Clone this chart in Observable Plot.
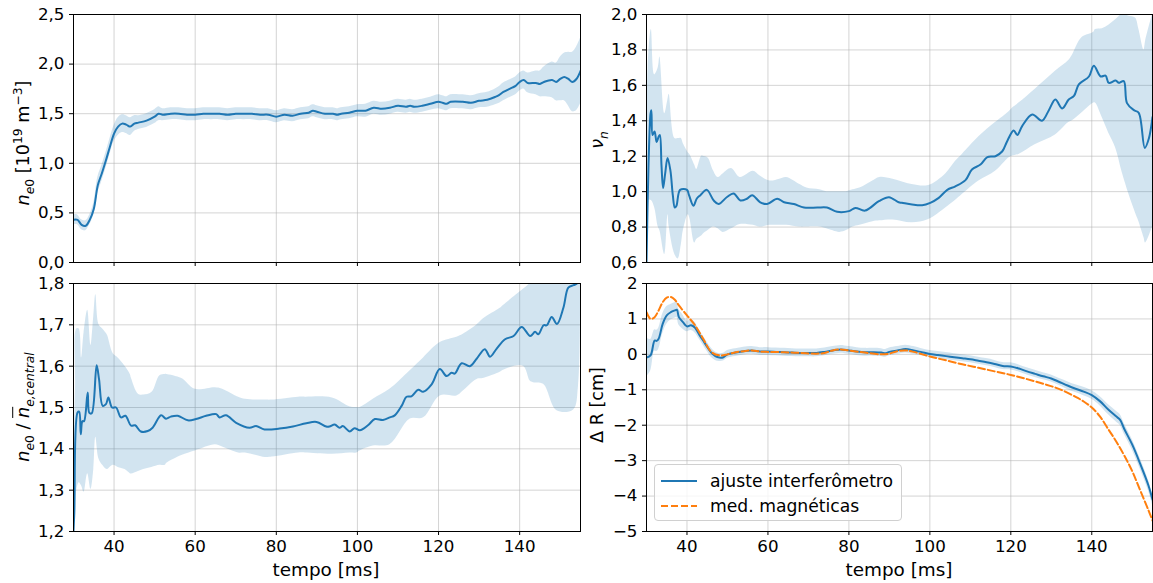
<!DOCTYPE html>
<html>
<head>
<meta charset="utf-8">
<script src="https://cdn.jsdelivr.net/npm/d3@7"></script>
<script src="https://cdn.jsdelivr.net/npm/@observablehq/plot@0.6"></script>
<style>
  html, body { margin: 0; padding: 0; background: #fff; }
  #chart { position: relative; width: 1153px; height: 583px; font-family: "DejaVu Sans", sans-serif; color: #000; }
  .panel { position: absolute; }
  .ylab { position: absolute; transform: translate(-50%, -50%) rotate(-90deg); white-space: nowrap; font-size: 17.6px; line-height: 1; }
  .xlab { position: absolute; transform: translate(-50%, -50%); white-space: nowrap; font-size: 18.4px; line-height: 1; }
  .legend { position: absolute; border: 1px solid #d0d0d0; border-radius: 4px; background: rgba(255,255,255,0.8); font-size: 17.2px; box-sizing: border-box; }
  .legend .row { position: absolute; left: 0; display: flex; align-items: center; white-space: nowrap; }
  .legend svg { margin-left: 6px; margin-right: 13px; }
  sub, sup { font-size: 70%; line-height: 0; }
</style>
</head>
<body>
<div id="chart"></div>
<script>
// ---------------- shared axis values ----------------
const xTicks = [40, 60, 80, 100, 120, 140];
const xDomain = [30, 155];

// ---------------- panel A: n_e0 ----------------
const tA = [30,31,32,33,34,35,36,37,38,39,40,41,42,43,44,45,46,48,50,51,52,54,56,58,60,62,64,66,68,70,72,74,76,78,80,82,84,86,88,89,90,92,94,95,96,98,100,102,104,106,108,110,112,113,114,116,118,120,121,122,123,126,128,130,132,134,135,136,138,139,140,141,142,144,145,146,148,149,150,151,152,153,154,155];
const neA = [0.43,0.43,0.38,0.37,0.43,0.54,0.78,0.90,1.03,1.17,1.30,1.37,1.40,1.39,1.37,1.40,1.41,1.43,1.47,1.50,1.49,1.50,1.50,1.49,1.49,1.50,1.50,1.50,1.49,1.50,1.50,1.50,1.49,1.49,1.47,1.49,1.48,1.50,1.51,1.53,1.52,1.50,1.50,1.49,1.50,1.51,1.53,1.53,1.56,1.55,1.56,1.58,1.57,1.58,1.57,1.58,1.60,1.62,1.61,1.60,1.62,1.62,1.61,1.63,1.64,1.67,1.69,1.72,1.76,1.78,1.82,1.84,1.81,1.81,1.80,1.82,1.84,1.82,1.85,1.87,1.85,1.82,1.85,1.93];
const errA = [0.05,0.05,0.05,0.05,0.05,0.06,0.08,0.08,0.08,0.08,0.08,0.09,0.09,0.09,0.09,0.08,0.07,0.07,0.07,0.07,0.06,0.06,0.06,0.06,0.06,0.06,0.06,0.06,0.06,0.06,0.06,0.06,0.06,0.06,0.06,0.06,0.06,0.06,0.06,0.06,0.06,0.06,0.06,0.06,0.06,0.06,0.06,0.065,0.065,0.065,0.065,0.065,0.065,0.065,0.065,0.065,0.065,0.07,0.07,0.07,0.07,0.07,0.07,0.07,0.075,0.08,0.085,0.09,0.09,0.09,0.09,0.09,0.10,0.12,0.13,0.15,0.18,0.19,0.22,0.24,0.27,0.30,0.32,0.33];
const yTicksA = [0, 0.5, 1.0, 1.5, 2.0, 2.5];

// ---------------- panel B: nu_n ----------------
const tB = [30,30.5,31,31.2,31.5,32,32.5,33,33.3,33.7,34.1,34.6,35.2,35.9,36.5,37,37.4,38.3,40,40.5,41.6,42.4,43.3,44.9,46.6,47.8,49.9,51.5,53.2,54.8,56.1,58.1,59.8,62.3,64,66.4,68.9,72.2,74.6,77.1,80,81.6,84,87.4,89.9,92.3,93.1,95.6,98.1,100.1,102.2,104.3,106.3,108.8,110.4,112.5,114.2,116.2,117.9,119.1,120.7,121.6,122.8,125.3,127.7,129.4,131,132.7,134.3,135.6,136.8,139.3,140.5,142.2,143.4,144.2,145.9,146.7,147.9,148.7,150.4,151.6,153.1,154.1,155];
const nuB = [0.60,1.15,1.44,1.46,1.32,1.34,1.28,1.31,1.32,1.15,1.02,1.10,1.19,1.12,0.98,0.91,0.92,1.01,1.01,0.98,0.92,0.96,0.98,1.01,0.95,0.93,0.97,0.99,0.95,0.96,0.98,0.94,0.93,0.96,0.94,0.93,0.91,0.91,0.91,0.886,0.89,0.908,0.893,0.946,0.969,0.94,0.937,0.927,0.923,0.937,0.965,1.01,1.03,1.065,1.125,1.153,1.195,1.20,1.228,1.285,1.345,1.32,1.37,1.435,1.40,1.46,1.52,1.47,1.52,1.54,1.605,1.65,1.71,1.65,1.655,1.614,1.627,1.614,1.624,1.50,1.46,1.445,1.247,1.30,1.42];
const tBandB = [30,30.4,31.2,32,32.9,33.3,34.5,35.3,35.6,37,37.8,38.6,39.1,40.3,40.7,41.9,42.4,43.6,44,45.2,46.5,47.7,48.9,51,53.1,56.4,58,60.5,62.9,64.6,67.9,69.6,72.8,74.5,77.7,79.4,81,82.7,85.9,87.6,90.9,95.6,99.7,103.9,106.3,108,112.1,116.2,119.5,120.3,122,126.1,131,134.3,135.2,137.6,140.5,140.9,142.6,144.2,145.9,147.5,149.2,150.8,151.6,152.9,153.3,155];
const loB = [0.60,0.95,0.95,0.91,0.80,0.78,0.645,0.87,0.80,0.645,0.62,0.70,0.78,0.87,0.85,0.71,0.73,0.75,0.76,0.78,0.80,0.79,0.77,0.79,0.815,0.81,0.80,0.81,0.81,0.81,0.80,0.80,0.80,0.79,0.77,0.78,0.80,0.81,0.83,0.835,0.84,0.824,0.843,0.908,0.95,0.984,1.06,1.115,1.19,1.20,1.21,1.266,1.32,1.39,1.40,1.445,1.50,1.50,1.417,1.33,1.247,1.11,0.984,0.88,0.833,0.74,0.71,0.80];
const hiB = [0.60,1.70,1.915,1.66,1.70,1.76,1.44,1.52,1.55,1.30,1.30,1.30,1.27,1.22,1.21,1.15,1.125,1.20,1.20,1.19,1.12,1.08,1.10,1.13,1.08,1.115,1.09,1.06,1.07,1.08,1.04,1.02,1.01,1.00,1.00,1.00,1.01,1.02,1.06,1.08,1.07,1.04,1.035,1.10,1.17,1.21,1.31,1.39,1.45,1.47,1.50,1.58,1.68,1.74,1.77,1.87,1.90,1.915,1.92,1.94,1.97,2.00,1.99,1.98,1.92,1.80,1.85,2.00];
const yTicksB = [0.6, 0.8, 1.0, 1.2, 1.4, 1.6, 1.8, 2.0];

// ---------------- panel C: n_e0 / n_e,central ----------------
const tC = [30,30.2,31,31.4,31.8,32.2,32.6,33.5,33.9,34.5,35.7,36.3,37.2,38,38.6,39.5,40.5,41.7,42.8,44.2,45.2,46.6,48.3,49.5,51.6,52.8,54,55.7,58.2,60.2,62.7,65.2,66,67.6,70.1,73.4,75,77.1,80.8,84.1,87.4,89.9,92.3,93.1,94.4,95.6,96.4,98.1,99.3,100.6,102.6,104.3,106.3,108,109.2,110.9,112.1,113.3,115,116.2,118.3,120.3,122,123.2,124,125.7,127.7,129.4,131.4,132.7,134.3,136.4,138.5,140.5,142.6,143.8,144.6,145.9,146.7,147.9,149.2,150.8,152,153.3,154.1,155];
const rC = [1.20,1.246,1.488,1.49,1.435,1.467,1.467,1.536,1.487,1.486,1.602,1.568,1.504,1.508,1.524,1.50,1.50,1.476,1.48,1.456,1.457,1.442,1.443,1.451,1.481,1.473,1.478,1.48,1.469,1.472,1.48,1.484,1.476,1.481,1.463,1.451,1.455,1.447,1.449,1.454,1.462,1.465,1.454,1.454,1.459,1.451,1.455,1.442,1.45,1.445,1.457,1.472,1.47,1.476,1.481,1.504,1.526,1.527,1.543,1.538,1.556,1.593,1.576,1.584,1.582,1.607,1.60,1.618,1.641,1.623,1.642,1.665,1.673,1.695,1.673,1.683,1.677,1.699,1.699,1.719,1.702,1.742,1.79,1.796,1.80,1.82];
const tBandC = [30,30.5,30.8,31.4,32,32.6,33.5,34.3,35,35.5,36.3,37.2,38,38.4,39.8,41,42.7,44,44.3,46,47.3,49.3,51.3,52.6,53,56.7,60,65,66.6,70.7,72.4,77.3,79,85.5,87.2,93.8,98.1,99.8,100.6,103.9,108,113,116.3,120.4,124.5,126.1,129.5,131,135.2,136,140.9,142.6,143.4,145.9,149.2,153.3,154.5,155];
const loC = [1.20,1.27,1.30,1.318,1.31,1.295,1.34,1.302,1.35,1.428,1.375,1.36,1.351,1.35,1.36,1.355,1.35,1.34,1.339,1.345,1.35,1.355,1.36,1.36,1.365,1.384,1.395,1.41,1.405,1.39,1.39,1.379,1.38,1.39,1.39,1.387,1.39,1.39,1.395,1.407,1.41,1.472,1.475,1.528,1.528,1.54,1.568,1.57,1.585,1.59,1.60,1.564,1.56,1.556,1.492,1.494,1.55,1.75];
const hiC = [1.35,1.55,1.69,1.69,1.62,1.68,1.735,1.65,1.72,1.773,1.70,1.69,1.68,1.674,1.63,1.62,1.60,1.58,1.57,1.532,1.53,1.536,1.577,1.58,1.58,1.57,1.544,1.548,1.545,1.525,1.52,1.518,1.518,1.525,1.525,1.523,1.502,1.50,1.50,1.52,1.544,1.589,1.62,1.657,1.67,1.677,1.70,1.714,1.74,1.747,1.786,1.80,1.81,1.83,1.85,1.85,1.85,1.85];
const yTicksC = [1.2, 1.3, 1.4, 1.5, 1.6, 1.7, 1.8];

// ---------------- panel D: Delta R ----------------
const tD = [30,31,32,32.5,33,34,35,36,37,37.5,38,39,40,41,42,43,44,45,46,47,48,49,50,52,54,56,58,60,62,64,66,68,70,72,74,76,78,80,82,84,86,88,89,90,92,94,96,98,100,102,104,106,108,110,112,114,116,118,120,122,124,126,128,130,132,134,136,138,140,142,144,146,147,148,150,152,154,155];
const dRD = [-0.09,-0.03,0.39,0.38,0.44,0.86,1.10,1.19,1.24,1.26,1.05,0.91,0.79,0.82,0.75,0.56,0.39,0.21,0.05,-0.05,-0.09,-0.08,0.0,0.05,0.09,0.11,0.08,0.08,0.07,0.06,0.05,0.04,0.04,0.04,0.07,0.11,0.14,0.11,0.08,0.06,0.06,0.05,0.03,0.07,0.11,0.15,0.11,0.06,0.01,-0.02,-0.05,-0.08,-0.11,-0.14,-0.18,-0.22,-0.27,-0.33,-0.34,-0.40,-0.48,-0.55,-0.62,-0.68,-0.78,-0.88,-0.97,-1.05,-1.15,-1.32,-1.55,-1.75,-1.85,-2.10,-2.55,-3.10,-3.70,-4.10];
const errD = [0.55,0.45,0.30,0.30,0.30,0.28,0.25,0.22,0.22,0.22,0.22,0.20,0.15,0.15,0.15,0.13,0.13,0.13,0.13,0.12,0.11,0.11,0.11,0.11,0.11,0.11,0.11,0.11,0.11,0.11,0.11,0.11,0.11,0.11,0.11,0.11,0.11,0.11,0.11,0.11,0.11,0.11,0.11,0.11,0.11,0.11,0.11,0.10,0.10,0.10,0.10,0.10,0.10,0.10,0.10,0.10,0.10,0.10,0.10,0.10,0.10,0.10,0.10,0.10,0.10,0.11,0.11,0.12,0.12,0.13,0.14,0.15,0.15,0.15,0.15,0.15,0.15,0.15];
const tM = [30,31,32,33,34,35,36,37,38,40,42,44,46,48,50,52,54,56,58,60,64,68,72,74,76,78,80,84,88,90,92,94,96,100,104,108,112,116,120,124,128,132,136,138,140,142,144,146,148,150,152,154,155];
const magD = [1.19,1.00,1.05,1.24,1.47,1.60,1.62,1.54,1.38,1.10,0.82,0.44,0.07,-0.03,0.00,0.06,0.09,0.11,0.08,0.07,0.06,0.04,0.02,0.04,0.11,0.14,0.11,0.05,0.00,0.02,0.09,0.11,0.07,-0.06,-0.17,-0.28,-0.38,-0.48,-0.58,-0.70,-0.83,-0.98,-1.20,-1.33,-1.50,-1.75,-2.10,-2.45,-2.85,-3.30,-3.85,-4.40,-4.69];
const yTicksD = [-5, -4, -3, -2, -1, 0, 1, 2];

const legendLabels = ["ajuste interferômetro", "med. magnéticas"];

// ---------------- helpers ----------------
const BLUE = "#1f77b4", ORANGE = "#ff7f0e";
const FONT = "16.7px";
const comma1 = d => d.toFixed(1).replace(".", ",");
const minusInt = d => (d < 0 ? "\u2212" + Math.abs(d) : String(d));

function panel({left, top, width, height, mt, mb, ml, mr, yDomain, yTicks, yFmt, showX, marks}) {
  const svg = Plot.plot({
    width, height,
    marginTop: mt, marginBottom: mb, marginLeft: ml, marginRight: mr,
    style: {fontFamily: "'DejaVu Sans', sans-serif", fontSize: FONT, color: "#000", background: "transparent", overflow: "visible"},
    x: {domain: xDomain, label: null},
    y: {domain: yDomain, label: null},
    marks: [
      Plot.gridX(xTicks, {stroke: "#b0b0b0", strokeOpacity: 0.55, strokeWidth: 1}),
      Plot.gridY(yTicks, {stroke: "#b0b0b0", strokeOpacity: 0.55, strokeWidth: 1}),
      ...marks,
      Plot.frame({stroke: "#000", strokeWidth: 1}),
      Plot.axisX(xTicks, {tickSize: 4, tickPadding: 5, label: null, fontSize: FONT, tickFormat: showX ? (d => String(d)) : (() => "")}),
      Plot.axisY(yTicks, {tickSize: 4, tickPadding: 5, label: null, fontSize: FONT, tickFormat: yFmt})
    ]
  });
  const div = document.createElement("div");
  div.className = "panel";
  div.style.left = left + "px";
  div.style.top = top + "px";
  div.appendChild(svg);
  document.getElementById("chart").appendChild(div);
}

// data tables
const dataA = tA.map((t, i) => ({t, v: neA[i], lo: neA[i] - errA[i], hi: neA[i] + errA[i]}));
const lineB = tB.map((t, i) => ({t, v: nuB[i]}));
const bandB = tBandB.map((t, i) => ({t, lo: loB[i], hi: hiB[i]}));
const lineC = tC.map((t, i) => ({t, v: rC[i]}));
const bandC = tBandC.map((t, i) => ({t, lo: loC[i], hi: hiC[i]}));
const dataD = tD.map((t, i) => ({t, v: dRD[i], lo: dRD[i] - errD[i], hi: dRD[i] + errD[i]}));
const magData = tM.map((t, i) => ({t, v: magD[i]}));

const band = (data) => Plot.areaY(data, {x: "t", y1: "lo", y2: "hi", fill: BLUE, fillOpacity: 0.2, curve: "catmull-rom", clip: true});
const line = (data, stroke = BLUE, extra = {}) => Plot.lineY(data, {x: "t", y: "v", stroke, strokeWidth: 2, curve: "catmull-rom", clip: true, ...extra});

// top-left
panel({left: 0, top: 0, width: 590, height: 270, mt: 14, mb: 8, ml: 73, mr: 10,
  yDomain: [0, 2.5], yTicks: yTicksA, yFmt: comma1, showX: false,
  marks: [band(dataA), line(dataA)]});
// top-right
panel({left: 590, top: 0, width: 563, height: 270, mt: 14, mb: 8, ml: 56, mr: 1,
  yDomain: [0.6, 2.0], yTicks: yTicksB, yFmt: comma1, showX: false,
  marks: [band(bandB), line(lineB)]});
// bottom-left
panel({left: 0, top: 270, width: 590, height: 313, mt: 13, mb: 52, ml: 73, mr: 10,
  yDomain: [1.2, 1.8], yTicks: yTicksC, yFmt: comma1, showX: true,
  marks: [band(bandC), line(lineC)]});
// bottom-right
panel({left: 590, top: 270, width: 563, height: 313, mt: 13, mb: 52, ml: 56, mr: 1,
  yDomain: [-5, 2], yTicks: yTicksD, yFmt: minusInt, showX: true,
  marks: [band(dataD), line(dataD), line(magData, ORANGE, {strokeDasharray: "7,3"})]});

// ---------------- labels (HTML text) ----------------
const chart = document.getElementById("chart");
function addLabel(cls, x, y, html) {
  const d = document.createElement("div");
  d.className = cls;
  d.style.left = x + "px";
  d.style.top = y + "px";
  d.innerHTML = html;
  chart.appendChild(d);
}
addLabel("ylab", 24, 143, '<i>n</i><sub><i>e</i>0</sub> [10<sup>19</sup> m<sup>\u22123</sup>]');
addLabel("ylab", 598, 140, '<i>\u03bd</i><sub><i>n</i></sub>');
addLabel("ylab", 24, 407, '<i>n</i><sub><i>e</i>0</sub> / <span style="text-decoration: overline"><i>n</i></span><sub><i>e,central</i></sub>');
addLabel("ylab", 598, 405, '\u0394 R [cm]');
addLabel("xlab", 326, 570, 'tempo [ms]');
addLabel("xlab", 899, 570, 'tempo [ms]');

// legend
const lg = document.createElement("div");
lg.className = "legend";
Object.assign(lg.style, {left: "654px", top: "464px", width: "248px", height: "57px"});
[[BLUE, null], [ORANGE, "7,3"]].forEach(([c, dash], i) => {
  const row = document.createElement("div");
  row.className = "row";
  row.style.top = (i === 0 ? 4 : 29) + "px";
  row.style.height = "24px";
  const s = d3.create("svg").attr("width", 36).attr("height", 10);
  s.append("line").attr("x1", 0).attr("x2", 36).attr("y1", 5).attr("y2", 5)
    .attr("stroke", c).attr("stroke-width", 2).attr("stroke-dasharray", dash);
  row.appendChild(s.node());
  const sp = document.createElement("span");
  sp.textContent = legendLabels[i];
  row.appendChild(sp);
  lg.appendChild(row);
});
chart.appendChild(lg);
</script>
</body>
</html>
